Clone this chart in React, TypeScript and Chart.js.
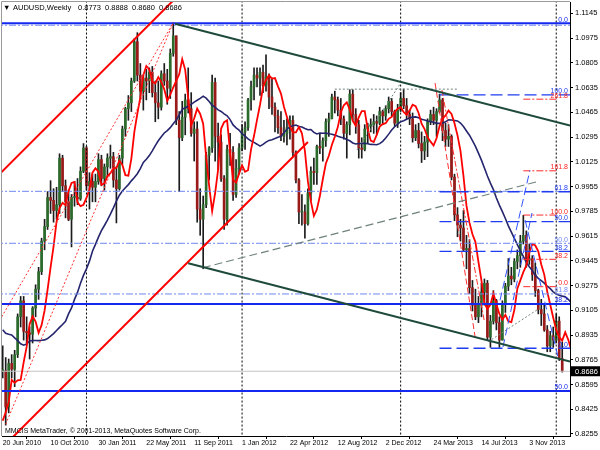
import React, { useEffect, useRef } from "react";
import { Chart, registerables } from "chart.js";
Chart.register(...registerables);

// ---------- axis ticks ----------
const tickWeeks = [0, 16, 32, 48, 64, 80, 96, 112, 128, 144, 160, 176];
const tickLabels = ["20 Jun 2010", "10 Oct 2010", "30 Jan 2011", "22 May 2011", "11 Sep 2011", "1 Jan 2012", "22 Apr 2012", "12 Aug 2012", "2 Dec 2012", "24 Mar 2013", "14 Jul 2013", "3 Nov 2013"];
const priceTicks = [0.8255, 0.8425, 0.8595, 0.8765, 0.8935, 0.9105, 0.9275, 0.9445, 0.9615, 0.9785, 0.9955, 1.0125, 1.0295, 1.0465, 1.0635, 1.0805, 1.0975, 1.1145];

// ---------- weekly OHLC (week 0 = 20 Jun 2010) ----------
const opens = [
  0.8690, 0.8690, 0.8440, 0.8740, 0.8700, 0.8800, 0.9060, 0.9170, 0.8960, 0.8950,
  0.8940, 0.9120, 0.9250, 0.9370, 0.9580, 0.9680, 0.9880, 0.9860, 0.9790, 0.9830,
  1.0150, 0.9960, 0.9850, 0.9730, 0.9880, 0.9880, 0.9870, 1.0060, 1.0220, 0.9960,
  0.9990, 0.9950, 0.9990, 1.0140, 1.0010, 1.0090, 1.0150, 1.0160, 1.0000, 0.9940,
  1.0150, 1.0350, 1.0490, 1.0530, 1.0680, 1.0950, 1.0720, 1.0610, 1.0700, 1.0680,
  1.0740, 1.0600, 1.0530, 1.0500, 1.0730, 1.0680, 1.0630, 1.0870, 1.0990, 1.0410,
  1.0290, 1.0430, 1.0550, 1.0490, 1.0320, 1.0350, 0.9800, 0.9730, 0.9830, 1.0170,
  1.0220, 1.0670, 1.0300, 1.0260, 1.0010, 0.9730, 1.0210, 1.0190, 0.9900, 1.0080,
  1.0220, 1.0330, 1.0360, 1.0550, 1.0640, 1.0720, 1.0700, 1.0740, 1.0650, 1.0710,
  1.0570, 1.0500, 1.0440, 1.0360, 1.0300, 1.0320, 1.0360, 1.0410, 1.0190, 1.0000,
  0.9780, 0.9780, 0.9700, 0.9910, 1.0060, 1.0050, 1.0230, 1.0220, 1.0270, 1.0400,
  1.0420, 1.0570, 1.0550, 1.0480, 1.0420, 1.0320, 1.0380, 1.0590, 1.0450, 1.0380,
  1.0220, 1.0210, 1.0350, 1.0370, 1.0380, 1.0400, 1.0390, 1.0470, 1.0440, 1.0490,
  1.0540, 1.0470, 1.0390, 1.0480, 1.0560, 1.0510, 1.0450, 1.0420, 1.0290, 1.0340,
  1.0250, 1.0200, 1.0260, 1.0400, 1.0450, 1.0410, 1.0470, 1.0550, 1.0340, 1.0280,
  1.0300, 1.0020, 0.9760, 0.9690, 0.9670, 0.9520, 0.9530, 0.9260, 0.9140, 0.9060,
  0.9140, 0.9230, 0.9290, 0.8920, 0.9030, 0.9170, 0.9020, 0.8900, 0.9150, 0.9270,
  0.9340, 0.9320, 0.9440, 0.9480, 0.9580, 0.9620, 0.9450, 0.9460, 0.9350, 0.9240,
  0.9110, 0.9080, 0.8970, 0.8860, 0.8930, 0.8900, 0.9030, 0.8773
];
const highs = [
  0.8860, 0.8780, 0.8770, 0.8800, 0.8830, 0.9080, 0.9200, 0.9200, 0.9060, 0.8990,
  0.9130, 0.9280, 0.9400, 0.9600, 0.9730, 0.9920, 0.9995, 0.9940, 0.9950, 1.0180,
  1.0170, 1.0000, 0.9930, 0.9900, 0.9990, 1.0010, 1.0090, 1.0250, 1.0230, 1.0050,
  1.0040, 1.0040, 1.0180, 1.0170, 1.0110, 1.0180, 1.0240, 1.0190, 1.0090, 1.0170,
  1.0370, 1.0500, 1.0580, 1.0700, 1.0970, 1.1012, 1.0800, 1.0720, 1.0760, 1.0770,
  1.0780, 1.0680, 1.0680, 1.0750, 1.0800, 1.0760, 1.0900, 1.1080, 1.0990, 1.0470,
  1.0540, 1.0590, 1.0770, 1.0600, 1.0400, 1.0400, 0.9940, 0.9890, 1.0190, 1.0230,
  1.0720, 1.0700, 1.0390, 1.0310, 1.0030, 1.0240, 1.0320, 1.0230, 1.0140, 1.0250,
  1.0380, 1.0400, 1.0560, 1.0680, 1.0770, 1.0770, 1.0770, 1.0790, 1.0860, 1.0730,
  1.0700, 1.0530, 1.0480, 1.0470, 1.0410, 1.0420, 1.0440, 1.0440, 1.0200, 1.0010,
  0.9900, 0.9830, 0.9940, 1.0090, 1.0150, 1.0240, 1.0320, 1.0290, 1.0420, 1.0460,
  1.0590, 1.0610, 1.0570, 1.0560, 1.0440, 1.0400, 1.0620, 1.0620, 1.0490, 1.0410,
  1.0290, 1.0380, 1.0390, 1.0420, 1.0450, 1.0440, 1.0500, 1.0480, 1.0510, 1.0570,
  1.0560, 1.0480, 1.0520, 1.0600, 1.0625, 1.0560, 1.0480, 1.0460, 1.0380, 1.0390,
  1.0330, 1.0300, 1.0420, 1.0480, 1.0500, 1.0490, 1.0590, 1.0560, 1.0390, 1.0380,
  1.0310, 1.0040, 0.9810, 0.9730, 0.9790, 0.9620, 0.9590, 0.9310, 0.9250, 0.9200,
  0.9290, 0.9320, 0.9310, 0.9070, 0.9240, 0.9180, 0.9060, 0.9170, 0.9290, 0.9460,
  0.9400, 0.9460, 0.9520, 0.9620, 0.9757, 0.9650, 0.9560, 0.9480, 0.9430, 0.9250,
  0.9180, 0.9150, 0.9000, 0.8960, 0.8990, 0.9080, 0.9060, 0.8888
];
const lows = [
  0.8640, 0.8316, 0.8400, 0.8640, 0.8580, 0.8780, 0.8990, 0.8900, 0.8880, 0.8770,
  0.8880, 0.9060, 0.9180, 0.9350, 0.9520, 0.9660, 0.9770, 0.9710, 0.9730, 0.9770,
  0.9920, 0.9740, 0.9720, 0.9540, 0.9820, 0.9830, 0.9860, 1.0050, 0.9930, 0.9800,
  0.9850, 0.9850, 0.9970, 0.9960, 0.9930, 1.0020, 1.0080, 0.9950, 0.9705, 0.9930,
  1.0110, 1.0300, 1.0410, 1.0470, 1.0670, 1.0680, 1.0560, 1.0480, 1.0550, 1.0600,
  1.0570, 1.0400, 1.0420, 1.0480, 1.0650, 1.0520, 1.0560, 1.0850, 1.0380, 0.9920,
  1.0270, 1.0310, 1.0460, 1.0300, 1.0130, 0.9710, 0.9620, 0.9390, 0.9810, 1.0000,
  1.0190, 1.0130, 1.0070, 0.9990, 0.9660, 0.9690, 1.0100, 0.9860, 0.9880, 1.0040,
  1.0200, 1.0210, 1.0340, 1.0480, 1.0550, 1.0640, 1.0580, 1.0600, 1.0610, 1.0490,
  1.0450, 1.0330, 1.0320, 1.0270, 1.0260, 1.0240, 1.0280, 1.0160, 0.9980, 0.9700,
  0.9690, 0.9600, 0.9690, 0.9860, 0.9970, 0.9970, 1.0180, 1.0130, 1.0230, 1.0300,
  1.0420, 1.0460, 1.0440, 1.0380, 1.0280, 1.0150, 1.0310, 1.0410, 1.0320, 1.0150,
  1.0150, 1.0200, 1.0250, 1.0330, 1.0320, 1.0310, 1.0380, 1.0380, 1.0410, 1.0460,
  1.0440, 1.0370, 1.0360, 1.0470, 1.0490, 1.0420, 1.0380, 1.0260, 1.0270, 1.0220,
  1.0120, 1.0140, 1.0160, 1.0380, 1.0380, 1.0300, 1.0460, 1.0270, 1.0230, 1.0230,
  1.0000, 0.9720, 0.9610, 0.9580, 0.9510, 0.9390, 0.9220, 0.9100, 0.9040, 0.9020,
  0.9060, 0.9140, 0.8900, 0.8850, 0.9010, 0.8970, 0.8850, 0.8900, 0.9090, 0.9240,
  0.9280, 0.9300, 0.9390, 0.9400, 0.9560, 0.9400, 0.9420, 0.9310, 0.9200, 0.9080,
  0.9000, 0.8960, 0.8820, 0.8820, 0.8850, 0.8880, 0.8760, 0.8680
];
const closes = [
  0.8690, 0.8440, 0.8740, 0.8700, 0.8800, 0.9060, 0.9170, 0.8960, 0.8950, 0.8940,
  0.9120, 0.9250, 0.9370, 0.9580, 0.9680, 0.9880, 0.9860, 0.9790, 0.9830, 1.0150,
  0.9960, 0.9850, 0.9730, 0.9880, 0.9880, 0.9870, 1.0060, 1.0220, 0.9960, 0.9990,
  0.9950, 0.9990, 1.0140, 1.0010, 1.0090, 1.0150, 1.0160, 1.0000, 0.9940, 1.0150,
  1.0350, 1.0490, 1.0530, 1.0680, 1.0950, 1.0720, 1.0610, 1.0700, 1.0680, 1.0740,
  1.0600, 1.0530, 1.0500, 1.0730, 1.0680, 1.0630, 1.0870, 1.0990, 1.0410, 1.0290,
  1.0430, 1.0550, 1.0490, 1.0320, 1.0350, 0.9800, 0.9730, 0.9830, 1.0170, 1.0220,
  1.0670, 1.0300, 1.0260, 1.0010, 0.9730, 1.0210, 1.0190, 0.9900, 1.0080, 1.0220,
  1.0330, 1.0360, 1.0550, 1.0640, 1.0720, 1.0700, 1.0740, 1.0650, 1.0710, 1.0570,
  1.0500, 1.0440, 1.0360, 1.0300, 1.0320, 1.0360, 1.0410, 1.0190, 1.0000, 0.9780,
  0.9780, 0.9700, 0.9910, 1.0060, 1.0050, 1.0230, 1.0220, 1.0270, 1.0400, 1.0420,
  1.0570, 1.0550, 1.0480, 1.0420, 1.0320, 1.0380, 1.0590, 1.0450, 1.0380, 1.0220,
  1.0210, 1.0350, 1.0370, 1.0380, 1.0400, 1.0390, 1.0470, 1.0440, 1.0490, 1.0540,
  1.0470, 1.0390, 1.0480, 1.0560, 1.0510, 1.0450, 1.0420, 1.0290, 1.0340, 1.0250,
  1.0200, 1.0260, 1.0400, 1.0450, 1.0410, 1.0470, 1.0550, 1.0340, 1.0280, 1.0300,
  1.0020, 0.9760, 0.9690, 0.9670, 0.9520, 0.9530, 0.9260, 0.9140, 0.9060, 0.9140,
  0.9230, 0.9290, 0.8920, 0.9030, 0.9170, 0.9020, 0.8900, 0.9150, 0.9270, 0.9340,
  0.9320, 0.9440, 0.9480, 0.9580, 0.9620, 0.9450, 0.9460, 0.9350, 0.9240, 0.9110,
  0.9080, 0.8970, 0.8860, 0.8930, 0.8900, 0.9030, 0.8780, 0.8686
];
// closes of the 28 weeks before the first visible bar (feed the moving averages)
const priorCloses = [
  0.9130, 0.8860, 0.8800, 0.8970, 0.9240, 0.9250, 0.9050, 0.8860, 0.8640, 0.8850,
  0.8970, 0.8960, 0.9060, 0.9170, 0.9130, 0.9140, 0.9230, 0.9340, 0.9290, 0.9280,
  0.9260, 0.8830, 0.8890, 0.8330, 0.8480, 0.8230, 0.8500, 0.8690
];

// ---------- drawn objects: anchors as [week, price] ----------
const yearSeparators = [28, 80, 133, 185];
const redChannelUpper = [[-1, 1.0042], [57, 1.1233]];
const redChannelLower = [[2, 0.8205], [102, 1.0261]];
const fanLineA = [[-1, 0.9036], [57, 1.108]];
const fanLineB = [[1, 0.8322], [57, 1.108]];
const darkTrendUpper = [[57.6, 1.1073], [189.6, 1.0374]];
const darkTrendLower = [[62, 0.9428], [189.6, 0.8752]];
const grayDashedTrend = [[66.9, 0.9397], [178.6, 0.9988]];
const grayDottedTop = [[111, 1.0624], [152, 1.0624]];
const grayDotted2012 = [[118.4, 1.0206], [132.8, 1.0659]];
const grayDotted2013 = [[162.3, 0.8889], [180.2, 0.9129]];
const redDashed2013a = [[144.5, 1.0666], [157.9, 0.8921]];
const redDashed2013b = [[146.8, 1.0618], [160.9, 0.9038]];
const blueDashed1 = [[166.2, 0.9173], [176.2, 1.0066]];
const blueDashed2 = [[167.2, 0.8852], [176.9, 0.9773]];
const blueDashed3 = [[174.6, 0.9725], [185.6, 0.8784]];

const solidFibLevels = [1.1076, 0.9148, 0.8551];
const solidFibLabels = ["0.0", "38.2", "50.0"];
const lightFibLevels = [1.1063, 0.9922, 0.9565, 0.9217];
const lightFibLabels = ["", "", "50.0", "61.8"];
const dashedFibLevels = [0.8844, 0.9509, 0.9714, 0.9919, 1.0584];
const dashedFibLabels = ["0.0", "38.2", "50.0", "61.8", "100.0"];
const dashedFibSpan = [146, 191];
const redFibLevels = [0.9267, 0.9455, 0.9759, 1.0063, 1.0555];
const redFibLabels = ["0.0", "38.2", "100.0", "161.8", "261.8"];
const redFibSpan = [174, 185.3];
const lastPrice = 0.8686;
const titleParts = ["AUDUSD,Weekly", "0.8773", "0.8888", "0.8680", "0.8686"];

const X_MIN = -0.234, X_MAX = 189.6, Y_MIN = 0.82412, Y_MAX = 1.12226;
const FONT = '"Liberation Sans", Arial, sans-serif';

function pts(a: number[][]) { return a.map(([x, y]) => ({ x, y })); }

function lineDs(points: any[], color: string, width: number, dash: number[], order: number) {
  return {
    type: "line", data: points, borderColor: color, borderWidth: width, borderDash: dash,
    pointRadius: 0, fill: false, tension: 0, order, clip: 0, parsing: true,
  };
}

export default function App() {
  const ref = useRef<HTMLCanvasElement>(null);
  useEffect(() => {
    document.body.style.margin = "0";
    const full = priorCloses.concat(closes);
    const P = priorCloses.length;
    const redMA: any[] = [];
    const navyMA: any[] = [];
    for (let i = 0; i <= closes.length + 2; i++) {
      // 3-week SMA shifted 3 bars forward
      const k = i + P - 3;
      redMA.push({ x: i, y: (full[k] + full[k - 1] + full[k - 2]) / 3 });
      let s = 0;
      for (let j = 0; j < 26; j++) s += full[k - j];
      navyMA.push({ x: i, y: s / 26 });
    }

    const datasets: any[] = [];
    datasets.push({
      type: "bar", data: highs.map((h, i) => ({ x: i, y: [lows[i], h] })),
      backgroundColor: "#1c1c1c", barThickness: 1, grouped: false, order: 100, borderWidth: 0,
    });
    datasets.push({
      type: "bar", data: opens.map((o, i) => ({ x: i, y: [o, closes[i]] })),
      backgroundColor: opens.map((o, i) => (closes[i] >= o ? "#2a6a2a" : "#9a1a1a")),
      barThickness: 2, grouped: false, order: 99, borderWidth: 0, minBarLength: 1,
    });
    datasets.push(lineDs(navyMA, "#25256e", 1.6, [], 12));
    datasets.push(lineDs(redMA, "#ff0000", 1.8, [], 11));

    // horizontal levels
    datasets.push(lineDs(pts([[X_MIN - 2, lastPrice], [X_MAX + 2, lastPrice]]), "#c4c4c4", 1, [], 50));
    solidFibLevels.forEach((v) => datasets.push(lineDs(pts([[X_MIN - 2, v], [X_MAX + 2, v]]), "#1428f0", 2, [], 6)));
    lightFibLevels.forEach((v) => datasets.push(lineDs(pts([[X_MIN - 2, v], [X_MAX + 2, v]]), "#6f88f0", 1, [7, 2, 2, 2], 7)));
    dashedFibLevels.forEach((v) => datasets.push(lineDs(pts([[dashedFibSpan[0], v], [dashedFibSpan[1], v]]), "#1f3cf0", 1.3, [12, 5], 5)));
    redFibLevels.forEach((v) => datasets.push(lineDs(pts([[redFibSpan[0], v], [redFibSpan[1], v]]), "#ff2a2a", 1, [7, 2, 2, 2], 5)));

    // year separators
    yearSeparators.forEach((w) => datasets.push(lineDs(pts([[w, Y_MIN - 0.01], [w, Y_MAX + 0.01]]), "#000000", 1, [2, 2], 60)));

    // trend lines
    datasets.push(lineDs(pts(redChannelUpper), "#ff0000", 2, [], 4));
    datasets.push(lineDs(pts(redChannelLower), "#ff0000", 2, [], 4));
    datasets.push(lineDs(pts(fanLineA), "#ff3030", 1, [2, 2], 4));
    datasets.push(lineDs(pts(fanLineB), "#ff3030", 1, [2, 2], 4));
    datasets.push(lineDs(pts(darkTrendUpper), "#1e4a3c", 2, [], 3));
    datasets.push(lineDs(pts(darkTrendLower), "#1e4a3c", 2, [], 3));
    datasets.push(lineDs(pts(grayDashedTrend), "#6f827c", 1.2, [8, 4], 4));
    datasets.push(lineDs(pts(grayDottedTop), "#6f827c", 1, [2, 2], 4));
    datasets.push(lineDs(pts(grayDotted2012), "#6f827c", 1, [2, 2], 4));
    datasets.push(lineDs(pts(grayDotted2013), "#6f827c", 1, [2, 2], 4));
    datasets.push(lineDs(pts(redDashed2013a), "#ff3030", 1, [6, 3], 4));
    datasets.push(lineDs(pts(redDashed2013b), "#ff3030", 1, [6, 2, 2, 2], 4));
    datasets.push(lineDs(pts(blueDashed1), "#3355ff", 1, [8, 4], 4));
    datasets.push(lineDs(pts(blueDashed2), "#3355ff", 1, [8, 4], 4));
    datasets.push(lineDs(pts(blueDashed3), "#3355ff", 1, [8, 4], 4));

    const textPlugin = {
      id: "mtTexts",
      afterDatasetsDraw(chart: any) {
        const { ctx, scales } = chart;
        const y = scales.y;
        ctx.save();
        ctx.font = `7px ${FONT}`;
        ctx.textAlign = "right";
        ctx.textBaseline = "alphabetic";
        const put = (levels: number[], labels: string[], color: string) => {
          ctx.fillStyle = color;
          levels.forEach((v, i) => {
            if (labels[i]) ctx.fillText(labels[i], 568, y.getPixelForValue(v) - 1.5);
          });
        };
        put(solidFibLevels, solidFibLabels, "#1428f0");
        put(lightFibLevels, lightFibLabels, "#6f88f0");
        put(dashedFibLevels, dashedFibLabels, "#1f3cf0");
        put(redFibLevels, redFibLabels, "#ff2020");
        ctx.restore();
      },
      afterDraw(chart: any) {
        const { ctx, chartArea, scales } = chart;
        ctx.save();
        // frame left/top
        ctx.strokeStyle = "#9a9a9a";
        ctx.lineWidth = 1;
        ctx.beginPath();
        ctx.moveTo(1.5, chartArea.bottom);
        ctx.lineTo(1.5, 1.5);
        ctx.lineTo(chartArea.right, 1.5);
        ctx.stroke();
        // title
        ctx.fillStyle = "#000";
        ctx.font = `7.5px ${FONT}`;
        ctx.textBaseline = "middle";
        ctx.textAlign = "left";
        ctx.fillText("\u25BC", 3, 7.5);
        ctx.fillText(titleParts[0], 13, 7.5);
        [78, 105, 132, 159].forEach((px, i) => ctx.fillText(titleParts[i + 1], px, 7.5));
        // copyright
        ctx.font = `7px ${FONT}`;
        ctx.fillText("MMCIS MetaTrader, \u00A9 2001-2013, MetaQuotes Software Corp.", 5, 431.5);
        // last price box
        const py = scales.y.getPixelForValue(lastPrice);
        ctx.fillStyle = "#000";
        ctx.fillRect(chartArea.right + 1, py - 5, 29, 10);
        ctx.fillStyle = "#fff";
        ctx.font = `7.5px ${FONT}`;
        ctx.fillText(lastPrice.toFixed(4), chartArea.right + 5, py + 0.5);
        ctx.restore();
      },
    };

    const chart = new Chart(ref.current as HTMLCanvasElement, {
      type: "bar",
      data: { datasets },
      options: {
        animation: false,
        responsive: false,
        maintainAspectRatio: false,
        devicePixelRatio: 1,
        events: [],
        layout: { padding: { left: 2, top: 2, right: 0, bottom: 0 } },
        plugins: { legend: { display: false }, tooltip: { enabled: false }, title: { display: false } },
        scales: {
          x: {
            type: "linear", min: X_MIN, max: X_MAX, offset: false,
            afterBuildTicks: (s: any) => { s.ticks = tickWeeks.map((v) => ({ value: v })); },
            afterFit: (s: any) => { s.height = 14; s.paddingLeft = 0; s.paddingRight = 0; },
            ticks: {
              autoSkip: false, maxRotation: 0, minRotation: 0, align: "start", padding: 0,
              color: "#000", font: { family: FONT, size: 7 },
              callback: (v: any) => { const k = tickWeeks.indexOf(Number(v)); return k >= 0 ? tickLabels[k] : ""; },
            },
            grid: { display: true, drawOnChartArea: false, drawTicks: true, tickLength: 3, color: "#000", lineWidth: 1 },
            border: { display: true, color: "#000", width: 1 },
          },
          y: {
            type: "linear", position: "right", min: Y_MIN, max: Y_MAX,
            afterBuildTicks: (s: any) => { s.ticks = priceTicks.map((v) => ({ value: v })); },
            afterFit: (s: any) => { s.width = 30; s.paddingTop = 0; s.paddingBottom = 0; },
            ticks: {
              autoSkip: false, padding: 2, color: "#000", font: { family: FONT, size: 7.5 },
              callback: (v: any) => Number(v).toFixed(4),
            },
            grid: { display: true, drawOnChartArea: false, drawTicks: true, tickLength: 3, color: "#000", lineWidth: 1 },
            border: { display: true, color: "#000", width: 1 },
          },
        },
      } as any,
      plugins: [textPlugin],
    } as any);
    return () => chart.destroy();
  }, []);
  return (
    <div style={{ width: 600, height: 450, background: "#fff" }}>
      <canvas ref={ref} width={600} height={450} style={{ display: "block", width: 600, height: 450 }} />
    </div>
  );
}
